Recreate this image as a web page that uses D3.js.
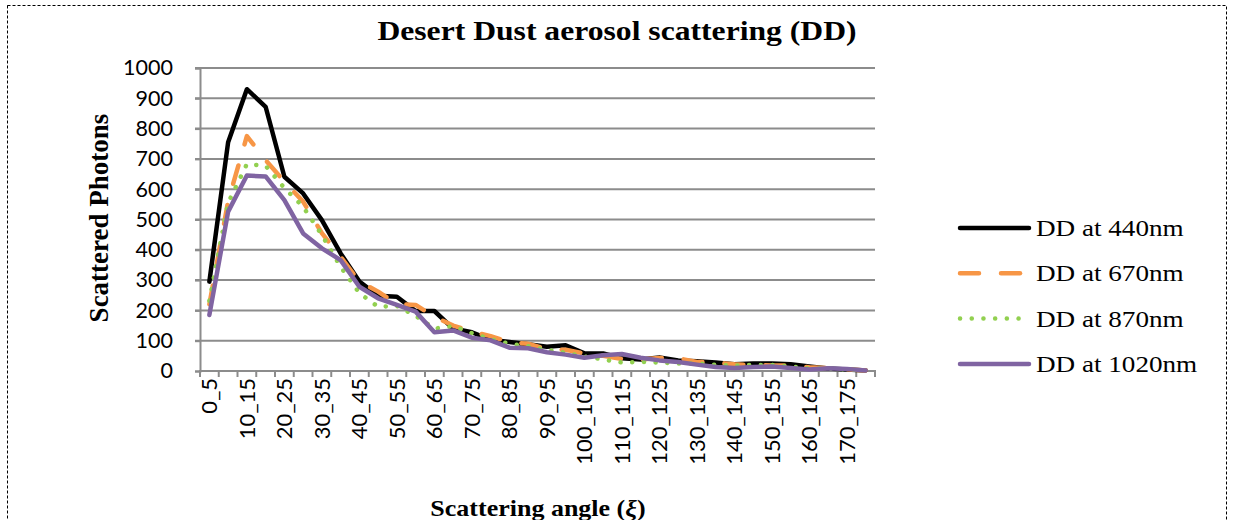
<!DOCTYPE html>
<html>
<head>
  <script src="https://d3js.org/d3.v7.min.js"></script>
  <style>
    body { margin: 0; background: #fff; }
  </style>
</head>
<body>
  <div id="chart"></div>
  <script>

  var categories = ["0_5", "5_10", "10_15", "15_20", "20_25", "25_30", "30_35", "35_40", "40_45", "45_50",
    "50_55", "55_60", "60_65", "65_70", "70_75", "75_80", "80_85", "85_90", "90_95", "95_100",
    "100_105", "105_110", "110_115", "115_120", "120_125", "125_130", "130_135", "135_140", "140_145", "145_150",
    "150_155", "155_160", "160_165", "165_170", "170_175", "175_180"];

  var dd440 = [295, 755, 930, 872, 641, 586, 498, 388, 295, 248, 245, 198, 198, 140, 128, 103, 96, 88, 80, 85,
    58, 58, 42, 38, 45, 35, 32, 28, 22, 25, 25, 22, 15, 8, 5, 2];
  var dd670 = [220, 560, 775, 696, 625, 559, 455, 377, 295, 262, 221, 218, 179, 150, 130, 115, 95, 90, 72, 70,
    58, 50, 40, 38, 43, 42, 30, 28, 22, 20, 18, 18, 12, 10, 6, 2];
  var dd870 = [232, 555, 683, 677, 604, 542, 449, 344, 257, 212, 215, 182, 140, 148, 125, 105, 90, 82, 70, 60,
    48, 38, 28, 30, 28, 25, 25, 20, 18, 20, 20, 15, 8, 8, 5, 2];
  var dd1020 = [185, 526, 645, 642, 564, 454, 405, 366, 278, 240, 218, 196, 128, 134, 110, 101, 77, 75, 62, 54,
    44, 52, 56, 44, 35, 30, 21, 13, 10, 13, 15, 10, 5, 9, 7, 2];

  var seriesNames = ["DD at 440nm", "DD at 670nm", "DD at 870nm", "DD at 1020nm"];
  var yTicks = [0, 100, 200, 300, 400, 500, 600, 700, 800, 900, 1000];

  var width = 1234, height = 520;
  var stretch = 1.13; // serif text in the picture is a bit wider than tall
  var serif = "'Liberation Serif', 'Times New Roman', Times, serif";
  var sans = "Lato, 'Open Sans', sans-serif";

  var series = [
    { name: seriesNames[0], values: dd440, color: "#000000", dash: null },
    { name: seriesNames[1], values: dd670, color: "#F79646", dash: "19,22" },
    { name: seriesNames[2], values: dd870, color: "#92D050", dash: "0.1,11.6" },
    { name: seriesNames[3], values: dd1020, color: "#8064A2", dash: null }
  ];

  var svg = d3.select("#chart").append("svg")
    .attr("width", width)
    .attr("height", height)
    .style("display", "block");

  svg.append("rect")
    .attr("x", 7.5).attr("y", 5.5)
    .attr("width", 1219).attr("height", 540)
    .attr("fill", "#fff")
    .attr("stroke", "#000")
    .attr("stroke-width", 1)
    .attr("stroke-dasharray", "3,2");

  var x = d3.scaleBand()
    .domain(categories)
    .range([200, 875]);

  var y = d3.scaleLinear()
    .domain([0, 1000])
    .range([371, 68]);

  var gridColor = "#8c8c8c";

  // gridlines
  svg.append("g").selectAll("line")
    .data(yTicks.filter(function(d) { return d > 0; }))
    .enter().append("line")
    .attr("x1", 195).attr("x2", 875)
    .attr("y1", function(d) { return y(d); })
    .attr("y2", function(d) { return y(d); })
    .attr("stroke", gridColor)
    .attr("stroke-width", 2);

  // y axis
  var yAxis = svg.append("g")
    .attr("transform", "translate(200,0)")
    .call(d3.axisLeft(y).tickValues(yTicks).tickFormat(d3.format("d")).tickSize(5).tickPadding(22));
  yAxis.select(".domain").attr("stroke", gridColor).attr("stroke-width", 2);
  yAxis.selectAll(".tick line").attr("stroke", gridColor).attr("stroke-width", 2);
  yAxis.selectAll("text")
    .style("font-family", sans)
    .style("font-size", "21.5px")
    .attr("fill", "#000");

  // x axis
  var xAxis = svg.append("g")
    .attr("transform", "translate(0,371)")
    .call(d3.axisBottom(x).tickSize(0).tickFormat(function(d, i) { return i % 2 === 0 ? d : ""; }));
  xAxis.select(".domain").remove();
  xAxis.selectAll("text")
    .attr("transform", "rotate(-90)")
    .attr("x", -7)
    .attr("y", 0)
    .attr("dy", "0.36em")
    .style("text-anchor", "end")
    .style("font-family", sans)
    .style("font-size", "22px")
    .attr("fill", "#000");

  svg.append("line")
    .attr("x1", 199).attr("x2", 876)
    .attr("y1", 371).attr("y2", 371)
    .attr("stroke", gridColor).attr("stroke-width", 2);

  var boundaries = categories.map(function(c) { return x(c); }).concat([x.range()[1]]);
  svg.append("g").selectAll("line")
    .data(boundaries)
    .enter().append("line")
    .attr("x1", function(d) { return d; })
    .attr("x2", function(d) { return d; })
    .attr("y1", 371).attr("y2", 377)
    .attr("stroke", gridColor)
    .attr("stroke-width", 2);

  // lines
  var line = d3.line()
    .x(function(d, i) { return x(categories[i]) + x.bandwidth() / 2; })
    .y(function(d) { return y(d); });

  svg.append("g").selectAll("path")
    .data(series)
    .enter().append("path")
    .attr("d", function(d) { return line(d.values); })
    .attr("fill", "none")
    .attr("stroke", function(d) { return d.color; })
    .attr("stroke-width", 4.5)
    .attr("stroke-linejoin", "round")
    .attr("stroke-linecap", "round")
    .attr("stroke-dasharray", function(d) { return d.dash; });

  // legend
  var legend = svg.append("g").selectAll("g")
    .data(series)
    .enter().append("g")
    .attr("transform", function(d, i) { return "translate(0," + (228 + i * 45.3) + ")"; });

  legend.append("line")
    .attr("x1", 960).attr("x2", 1029)
    .attr("y1", 0).attr("y2", 0)
    .attr("stroke", function(d) { return d.color; })
    .attr("stroke-width", 4.5)
    .attr("stroke-linecap", "round")
    .attr("stroke-dasharray", function(d) { return d.dash; });

  legend.append("text")
    .attr("class", "serif")
    .attr("x", 1036)
    .attr("y", 8)
    .style("font-family", serif)
    .style("font-size", "24px")
    .text(function(d) { return d.name; });

  // titles
  svg.append("text")
    .attr("class", "serif")
    .attr("x", 617)
    .attr("y", 40)
    .attr("text-anchor", "middle")
    .style("font-family", serif)
    .style("font-weight", "bold")
    .style("font-size", "28px")
    .text("Desert Dust aerosol scattering (DD)");

  var xTitle = svg.append("text")
    .attr("class", "serif")
    .attr("x", 538)
    .attr("y", 516)
    .attr("text-anchor", "middle")
    .style("font-family", serif)
    .style("font-weight", "bold")
    .style("font-size", "23px");
  xTitle.append("tspan").text("Scattering angle (");
  xTitle.append("tspan").style("font-style", "italic").text("ξ");
  xTitle.append("tspan").text(")");

  svg.append("text")
    .attr("transform", "translate(108,218) rotate(-90)")
    .attr("text-anchor", "middle")
    .style("font-family", serif)
    .style("font-weight", "bold")
    .style("font-size", "27px")
    .text("Scattered Photons");

  // widen horizontal serif text to match the picture
  svg.selectAll("text.serif").each(function() {
    var w = this.getComputedTextLength();
    d3.select(this)
      .attr("textLength", w * stretch)
      .attr("lengthAdjust", "spacingAndGlyphs");
  });

  </script>
</body>
</html>
